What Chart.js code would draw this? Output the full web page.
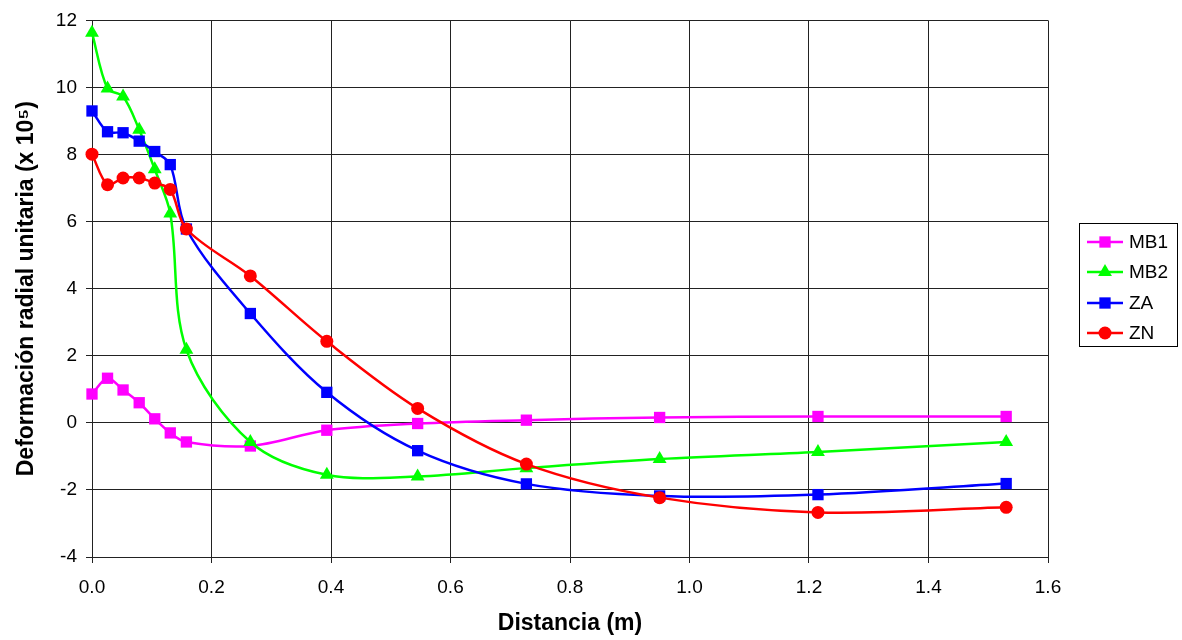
<!DOCTYPE html>
<html>
<head>
<meta charset="utf-8">
<script src="https://cdn.jsdelivr.net/npm/chart.js@4/dist/chart.umd.min.js"></script>
<style>
  html, body { margin: 0; padding: 0; background: #fff; }
  #wrap { width: 1182px; height: 640px; }
</style>
</head>
<body>
<div id="wrap"><canvas id="grafico"></canvas></div>
<script>
// distancias (m)
const distancia = [0, 0.026, 0.052, 0.079, 0.105, 0.131, 0.158, 0.265, 0.393, 0.545, 0.727, 0.950, 1.215, 1.530];
const mb1 = [0.86, 1.33, 0.98, 0.60, 0.12, -0.30, -0.57, -0.69, -0.22, -0.02, 0.08, 0.16, 0.19, 0.19];
const mb2 = [11.63, 9.97, 9.73, 8.74, 7.56, 6.24, 2.18, -0.57, -1.55, -1.60, -1.35, -1.08, -0.87, -0.57];
const za = [9.30, 8.68, 8.65, 8.40, 8.09, 7.70, 5.78, 3.26, 0.91, -0.83, -1.82, -2.18, -2.14, -1.81];
const zn = [8.01, 7.10, 7.30, 7.30, 7.15, 6.96, 5.78, 4.38, 2.43, 0.43, -1.23, -2.23, -2.67, -2.52];
const series = ['MB1', 'MB2', 'ZA', 'ZN'];

const fonte = '"Liberation Sans", Arial, sans-serif';

function pontos(ys) {
  return distancia.map((x, i) => ({ x: x, y: ys[i] }));
}

function serie(nome, ys, cor, estilo, raio, ordem) {
  return {
    label: nome,
    data: pontos(ys),
    borderColor: cor,
    backgroundColor: cor,
    borderWidth: 2.5,
    pointStyle: estilo,
    pointRadius: raio,
    pointHoverRadius: raio,
    pointBorderWidth: 0,
    tension: 0.33,
    clip: false,
    order: ordem
  };
}

// legenda com moldura, como no Excel
const legendaCaixa = {
  id: 'legendaCaixa',
  afterDraw(chart) {
    const ctx = chart.ctx;
    ctx.save();
    ctx.strokeStyle = '#000';
    ctx.lineWidth = 1;
    ctx.strokeRect(1079.5, 223.5, 98, 123);
    const ys = [242, 272, 303, 333];
    chart.data.datasets.forEach((ds, i) => {
      const y = ys[i];
      ctx.strokeStyle = ds.borderColor;
      ctx.lineWidth = 2.5;
      ctx.beginPath();
      ctx.moveTo(1087, y);
      ctx.lineTo(1123, y);
      ctx.stroke();
      ctx.fillStyle = ds.backgroundColor;
      Chart.helpers.drawPoint(ctx, { pointStyle: ds.pointStyle, radius: ds.pointRadius, rotation: 0, borderWidth: 0 }, 1105, y);
      ctx.fillStyle = '#000';
      ctx.font = '19px ' + fonte;
      ctx.textAlign = 'left';
      ctx.textBaseline = 'middle';
      ctx.fillText(ds.label, 1129, y + 1);
    });
    ctx.restore();
  }
};

const ctx = document.getElementById('grafico').getContext('2d');
const grafico = new Chart(ctx, {
  type: 'line',
  data: {
    datasets: [
      serie(series[0], mb1, '#FF00FF', 'rect', 8, 4),
      serie(series[1], mb2, '#00FF00', 'triangle', 8, 3),
      serie(series[2], za, '#0000FF', 'rect', 8, 2),
      serie(series[3], zn, '#FF0000', 'circle', 6.5, 1)
    ]
  },
  options: {
    responsive: true,
    maintainAspectRatio: false,
    animation: false,
    layout: { padding: { left: 0, top: 14, right: 134, bottom: 0 } },
    plugins: {
      legend: { display: false },
      tooltip: { enabled: false }
    },
    scales: {
      x: {
        type: 'linear',
        min: 0,
        max: 1.6,
        ticks: {
          stepSize: 0.2,
          color: '#000',
          padding: 13,
          maxRotation: 0,
          font: { family: fonte, size: 19 },
          callback: (v) => v.toFixed(1)
        },
        grid: { color: '#222', lineWidth: 1, tickLength: 6, tickColor: '#222' },
        border: { color: '#222', width: 1 },
        title: {
          display: true,
          text: 'Distancia (m)',
          color: '#000',
          font: { family: fonte, size: 23, weight: 'bold' },
          padding: { top: 0, bottom: 3 }
        },
        afterFit: (s) => { s.height = 83; }
      },
      y: {
        min: -4,
        max: 12,
        ticks: {
          stepSize: 2,
          color: '#000',
          padding: 9,
          font: { family: fonte, size: 19 }
        },
        grid: { color: '#222', lineWidth: 1, tickLength: 6, tickColor: '#222' },
        border: { color: '#222', width: 1 },
        title: {
          display: true,
          text: 'Deformación radial unitaria (x 10⁵)',
          color: '#000',
          font: { family: fonte, size: 23, weight: 'bold' },
          padding: { top: 13, bottom: 0 }
        },
        afterFit: (s) => { s.width = 92; }
      }
    }
  },
  plugins: [legendaCaixa]
});
</script>
</body>
</html>
